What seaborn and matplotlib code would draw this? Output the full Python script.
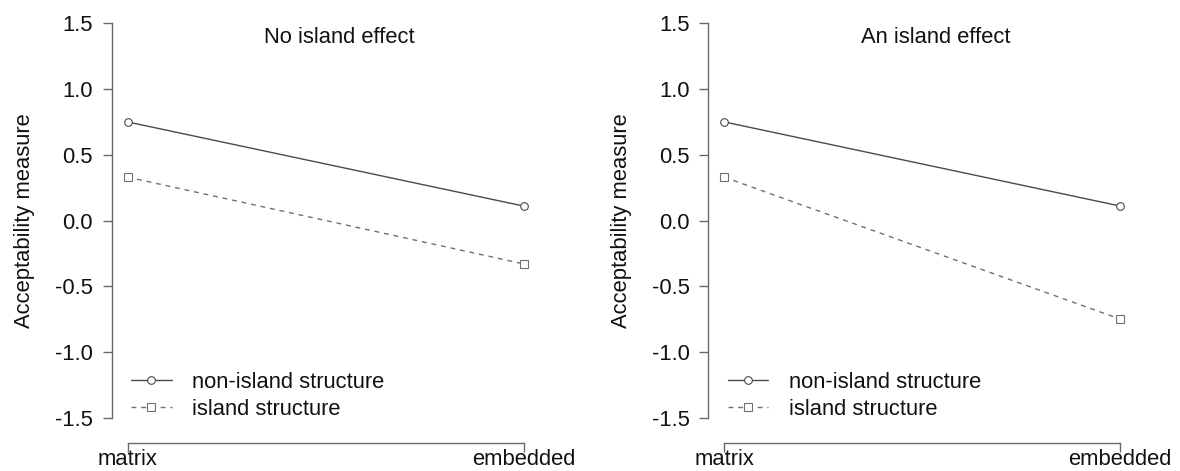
import matplotlib
matplotlib.use("Agg")
import matplotlib.pyplot as plt
import seaborn as sns
import pandas as pd

# ---- data ----
conditions = ["matrix", "embedded"]
structures = ["non-island structure", "island structure"]
panel_titles = ["No island effect", "An island effect"]
nonisland_vals = [0.75, 0.11]
island_vals_no_effect = [0.33, -0.33]
island_vals_effect = [0.33, -0.75]
y_ticks = [-1.5, -1.0, -0.5, 0.0, 0.5, 1.0, 1.5]
y_label = "Acceptability measure"

sns.set_style("ticks")
plt.rcParams["font.family"] = ["Liberation Sans", "DejaVu Sans"]

fig = plt.figure(figsize=(11.8, 4.71), dpi=100)
W, H = 1180, 471
FS = 15.8

axis_col = "#6a6a6a"
line_cols = {"non-island structure": "#4a4a4a", "island structure": "#707070"}

def make_df(island_vals):
    rows = []
    for c, v in zip(conditions, nonisland_vals):
        rows.append({"condition": c, "value": v, "structure": structures[0]})
    for c, v in zip(conditions, island_vals):
        rows.append({"condition": c, "value": v, "structure": structures[1]})
    return pd.DataFrame(rows)

panels = [(111.7, panel_titles[0], island_vals_no_effect),
          (708.3, panel_titles[1], island_vals_effect)]

top_px, bot_px = 23.3, 417.7
for left_px, title, ivals in panels:
    ax = fig.add_axes([left_px / W, (H - bot_px) / H, 427.7 / W, (bot_px - top_px) / H])
    df = make_df(ivals)
    sns.lineplot(data=df, x="condition", y="value", hue="structure", style="structure",
                 hue_order=structures, style_order=structures,
                 palette=line_cols,
                 markers={structures[0]: "o", structures[1]: "s"},
                 dashes={structures[0]: "", structures[1]: (3.5, 3.5)},
                 linewidth=1.0, markersize=5.5, markerfacecolor="white",
                 legend=False, ax=ax)
    for ln in ax.lines:
        ln.set_markeredgecolor(ln.get_color())
        ln.set_markeredgewidth(0.8)
        ln.set_clip_on(False)
    ax.set_xlim(-0.04, 1.04)
    ax.set_ylim(-1.5, 1.5)
    ax.set_yticks(y_ticks)
    ax.set_yticklabels([f"{t:.1f}" for t in y_ticks])
    ax.set_xticks([0, 1])
    ax.set_xticklabels(conditions)
    ax.set_xlabel("")
    ax.set_ylabel(y_label, fontsize=FS, color="#111111")
    ax.yaxis.set_label_coords(-0.179, 0.5)
    for s in ["top", "right"]:
        ax.spines[s].set_visible(False)
    ax.spines["left"].set_bounds(-1.5, 1.5)
    ax.spines["bottom"].set_bounds(0, 1)
    ax.spines["bottom"].set_position(("outward", 18.2))
    for s in ["left", "bottom"]:
        ax.spines[s].set_color(axis_col)
        ax.spines[s].set_linewidth(1.0)
    ax.tick_params(axis="both", direction="out", length=6.5, width=1.0, color=axis_col,
                   labelsize=FS, labelcolor="#111111")
    ax.tick_params(axis="y", pad=7.0)
    ax.tick_params(axis="x", pad=-2.0)
    ax.patch.set_alpha(0)
    ax.text(0.5315, 0.963, title, transform=ax.transAxes, ha="center", va="center",
            fontsize=FS, color="#111111")
    leg = ax.legend(ax.lines, structures, loc="upper left",
                    bbox_to_anchor=(0.045, 0.117),
                    frameon=False, fontsize=FS, handlelength=1.85, handletextpad=0.95,
                    labelspacing=0.3, borderpad=0, borderaxespad=0)
    for t in leg.get_texts():
        t.set_color("#111111")

fig.savefig("out.png", dpi=100)
